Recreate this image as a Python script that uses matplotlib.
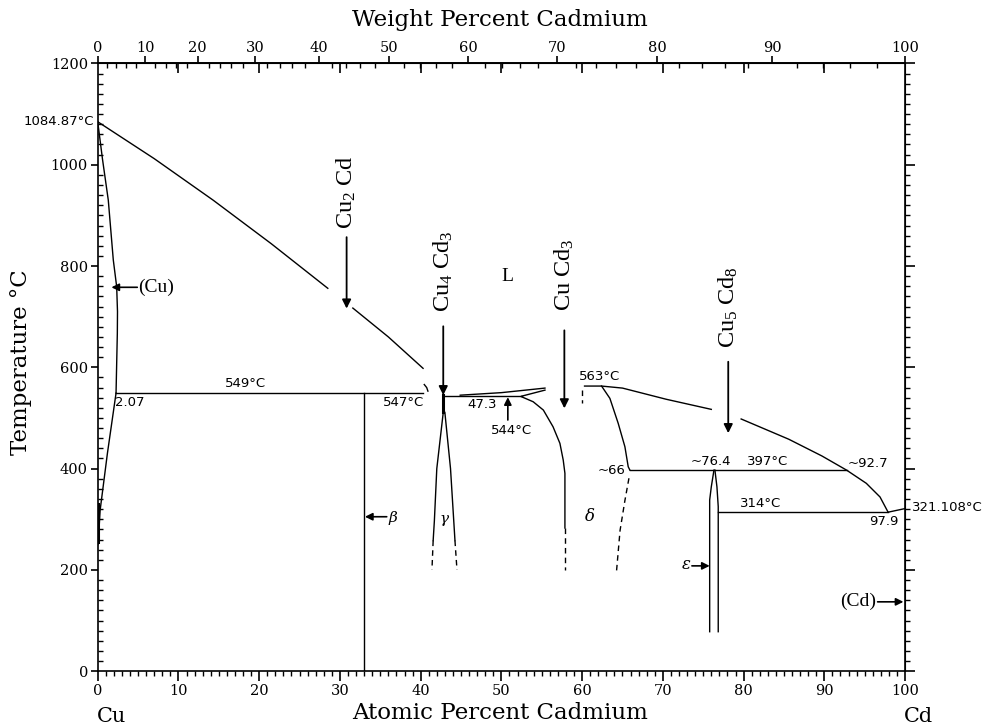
import numpy as np
from matplotlib import pyplot as plt

M_CU, M_CD = 63.546, 112.41

# phase boundaries, (at.% Cd, temperature C)
liq1_x = [0, 7.0, 14.3, 21.5, 28.5]
liq1_t = [1084.87, 1012, 930, 844, 756]
liq2_x = [31.6, 36.0, 40.3]
liq2_t = [717, 660, 598]
liq3_x = [40.45, 40.75, 40.9]
liq3_t = [566, 560, 553]

cu_sol_x = [0, 0.6, 1.31, 1.93, 2.35, 2.45, 2.43, 2.27]
cu_sol_t = [1084.87, 1010, 930, 812, 759, 710, 667, 549]
cu_solv_x = [2.27, 1.2, 0.3, 0.08, 0.02]
cu_solv_t = [549, 430, 318, 259, 250]

gam_l_x = [42.8, 42.0, 41.7, 41.55]
gam_l_t = [511, 400, 297, 258]
gam_ld_x = [41.55, 41.4]
gam_ld_t = [258, 200]
gam_r_x = [43.0, 43.7, 44.1, 44.25]
gam_r_t = [511, 400, 297, 258]
gam_rd_x = [44.25, 44.5]
gam_rd_t = [258, 200]

liqd1_x = [44.9, 50.0, 55.4]
liqd1_t = [545, 550, 559]
sold1_x = [52.5, 55.4]
sold1_t = [543, 555]

del_l_x = [52.5, 53.94, 55.2, 56.4, 57.25, 57.66, 57.87, 57.87]
del_l_t = [541.9, 532, 515.6, 482.6, 449.9, 416.9, 390.7, 282.7]
del_ld_x = [57.87, 57.87]
del_ld_t = [282.7, 199.8]

del_r_x = [62.41, 63.44, 64.47, 65.30, 65.71, 65.92]
del_r_t = [563, 538.7, 489.4, 443.2, 403.7, 397]
del_rd_x = [65.8, 65.3, 64.7, 64.27]
del_rd_t = [381, 337, 278, 199]
mark_x = [60.0, 60.0]
mark_t = [556, 530]

liq4_x = [60.3, 62.41, 65.0, 70.4, 76.0]
liq4_t = [563, 563, 559, 537, 517]
liq5_x = [79.7, 85.6, 89.7, 92.76, 95.2, 96.9, 97.9]
liq5_t = [498, 458, 425, 397, 371, 344, 314]
cd_sol_x = [97.9, 100]
cd_sol_t = [314, 321.108]

eps_l_x = [76.33, 76.0, 75.8, 75.8]
eps_l_t = [397, 364, 338, 78]
eps_r_x = [76.45, 76.7, 76.86, 76.86]
eps_r_t = [397, 364, 325, 78]

# isotherms: (x start, x end, temperature)
iso_549 = (2.27, 40.3, 549)
iso_544 = (43.0, 52.5, 544)
iso_397 = (65.92, 92.76, 397)
iso_314 = (76.86, 97.9, 314)
beta_x = 33.0
beta_t = (0, 549)

# compounds: name, x, label T, arrow top, arrow tip
compounds = [
    (r'$\mathregular{Cu_2\ Cd}$', 30.83, 945, 857, 716),
    (r'$\mathregular{Cu_4\ Cd_3}$', 42.8, 789, 681, 545),
    (r'$\mathregular{Cu\ Cd_3}$', 57.8, 782, 673, 519),
    (r'$\mathregular{Cu_5\ Cd_8}$', 78.1, 719, 611, 470),
]

# temperature/composition labels: text, x, T, alignment
notes = [
    ('549°C', 18.3, 568, 'center'),
    ('2.07', 2.2, 530, 'left'),
    ('547°C', 40.5, 530, 'right'),
    ('47.3', 47.6, 527, 'center'),
    ('544°C', 51.3, 476, 'center'),
    ('563°C', 59.6, 581, 'left'),
    ('~66', 65.4, 397, 'right'),
    ('~76.4', 76.0, 415, 'center'),
    ('397°C', 83.0, 415, 'center'),
    ('~92.7', 95.4, 410, 'center'),
    ('314°C', 82.1, 332, 'center'),
    ('97.9', 97.4, 296, 'center'),
    ('321.108°C', 100.9, 324, 'left'),
]


def at2wt(a):
    a = np.asarray(a, dtype=float)
    return 100 * a * M_CD / (a * M_CD + (100 - a) * M_CU)


def wt2at(w):
    w = np.asarray(w, dtype=float)
    return 100 * (w / M_CD) / (w / M_CD + (100 - w) / M_CU)


plt.rcParams['font.family'] = 'DejaVu Serif'
plt.rcParams['mathtext.fontset'] = 'stix'

fig = plt.figure(figsize=(9.86, 7.24), dpi=100)
ax = fig.add_axes([0.0991, 0.0729, 0.8188, 0.8395])
ax.set_xlim(0, 100)
ax.set_ylim(0, 1200)

kw = dict(color='black', lw=1.0)
dash = dict(color='black', lw=1.0, ls=(0, (4, 3)))
for xs, ts in [(liq1_x, liq1_t), (liq2_x, liq2_t), (liq3_x, liq3_t),
               (cu_sol_x, cu_sol_t), (cu_solv_x, cu_solv_t),
               (gam_l_x, gam_l_t), (gam_r_x, gam_r_t),
               (liqd1_x, liqd1_t), (sold1_x, sold1_t),
               (del_l_x, del_l_t), (del_r_x, del_r_t),
               (liq4_x, liq4_t), (liq5_x, liq5_t), (cd_sol_x, cd_sol_t),
               (eps_l_x, eps_l_t), (eps_r_x, eps_r_t)]:
    ax.plot(xs, ts, **kw)
for xs, ts in [(gam_ld_x, gam_ld_t), (gam_rd_x, gam_rd_t),
               (del_ld_x, del_ld_t), (del_rd_x, del_rd_t), (mark_x, mark_t)]:
    ax.plot(xs, ts, **dash)
for x0, x1, t in [iso_549, iso_544, iso_397, iso_314]:
    ax.plot([x0, x1], [t, t], **kw)
ax.plot([beta_x, beta_x], beta_t, **kw)
ax.plot([42.8, 42.8], [545, 511], color='black', lw=2.2)
ax.plot([0.05, 0.05], [255, 330], color='black', lw=2.2)

# compound arrows
for name, x, tl, ta, tb in compounds:
    ax.text(x, tl, name, rotation=90, ha='center', va='center',
            fontsize=17.5, family='Liberation Serif')
    ax.annotate('', xy=(x, tb), xytext=(x, ta),
                arrowprops=dict(arrowstyle='-|>', color='black', lw=1.3,
                                mutation_scale=13, shrinkA=0, shrinkB=0))

# phase pointers
ptr = dict(arrowstyle='-|>', color='black', lw=1.2, mutation_scale=11,
           shrinkA=0, shrinkB=0)
ax.annotate('', xy=(1.7, 758), xytext=(4.9, 758), arrowprops=ptr)
ax.text(5.0, 758, '(Cu)', va='center', ha='left', fontsize=14,
        family='Liberation Serif')
ax.annotate('', xy=(33.1, 305), xytext=(35.8, 305), arrowprops=ptr)
ax.text(36.0, 303, 'β', va='center', ha='left', fontsize=11, style='italic')
ax.text(42.9, 300, 'γ', va='center', ha='center', fontsize=11, style='italic')
ax.text(61.0, 306, 'δ', va='center', ha='center', fontsize=12, style='italic')
ax.annotate('', xy=(75.8, 208), xytext=(73.6, 208), arrowprops=ptr)
ax.text(73.4, 210, 'ε', va='center', ha='right', fontsize=12, style='italic')
ax.annotate('', xy=(99.8, 137), xytext=(96.6, 137), arrowprops=ptr)
ax.text(96.4, 137, '(Cd)', va='center', ha='right', fontsize=14,
        family='Liberation Serif')
ax.annotate('', xy=(50.8, 541), xytext=(50.8, 496), arrowprops=ptr)
ax.text(50.7, 779, 'L', ha='center', va='center', fontsize=14,
        family='Liberation Serif')

for txt, x, t, ha in notes:
    ax.text(x, t, txt, ha=ha, va='center', fontsize=9.5, family='DejaVu Sans')
ax.text(-0.5, 1084.87, '1084.87°C', ha='right', va='center', fontsize=9.5,
        family='DejaVu Sans')

# bottom / left ticks
ax.set_xticks(np.arange(0, 101, 10))
ax.set_xticks(np.arange(0, 101, 1), minor=True)
ax.set_yticks(np.arange(0, 1201, 200))
ax.set_yticks(np.arange(0, 1201, 20), minor=True)
ax.tick_params(axis='x', which='major', direction='out', length=7, width=1.2,
               labelsize=10.5, pad=2)
ax.tick_params(axis='x', which='minor', direction='out', length=3.5, width=1)
ax.tick_params(axis='y', which='major', direction='out', length=5, width=1.2,
               labelsize=10.5, pad=2)
ax.tick_params(axis='y', which='minor', direction='in', length=3.5, width=1)
for s in ax.spines.values():
    s.set_linewidth(1.2)

# top: weight percent scale plus inward atomic ticks
top_at = ax.secondary_xaxis('top', functions=(lambda v: v, lambda v: v))
top_at.set_xticks(np.arange(10, 100, 10))
top_at.tick_params(direction='in', length=7, width=1.2, labeltop=False)
top_at.spines['top'].set_linewidth(1.2)

top_wt = ax.secondary_xaxis('top', functions=(at2wt, wt2at))
top_wt.set_xticks(np.arange(0, 101, 10))
top_wt.set_xticks(np.arange(0, 101, 2), minor=True)
top_wt.tick_params(which='major', direction='out', length=5, width=1.2,
                   labelsize=10.5, pad=1)
top_wt.tick_params(which='minor', direction='in', length=3.5, width=1)

right = ax.secondary_yaxis('right', functions=(lambda v: v, lambda v: v))
right.set_yticks(np.arange(0, 1201, 200))
right.set_yticks(np.arange(0, 1201, 20), minor=True)
right.tick_params(which='major', direction='out', length=7, width=1.2,
                  labelright=False)
right.tick_params(which='minor', direction='out', length=3.5, width=1)

fig.text(0.507, 1 - 20 / 724, 'Weight Percent Cadmium', ha='center',
         va='center', fontsize=16.5)
fig.text(0.507, 1 - 713 / 724, 'Atomic Percent Cadmium', ha='center',
         va='center', fontsize=16.5)
fig.text(111 / 986, 1 - 716 / 724, 'Cu', ha='center', va='center', fontsize=15)
fig.text(918 / 986, 1 - 716 / 724, 'Cd', ha='center', va='center', fontsize=15)
fig.text(21 / 986, 1 - 362 / 724, 'Temperature °C', rotation=90, ha='center',
         va='center', fontsize=16.5)

fig.savefig('out.png', dpi=100)
